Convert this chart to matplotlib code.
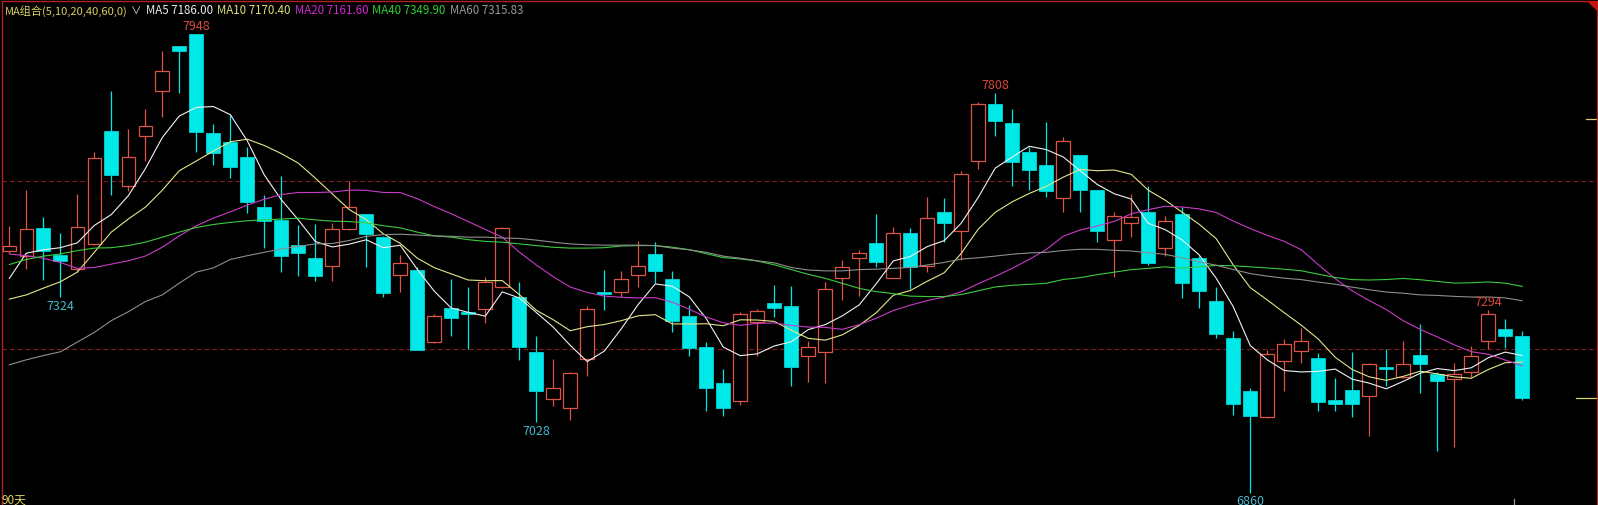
import numpy as np
import matplotlib
matplotlib.use('Agg')
import matplotlib.pyplot as plt
from matplotlib.patches import Polygon

plt.rcParams['font.family'] = ['Noto Sans CJK SC', 'DejaVu Sans']

# 90 根日K线 (开 高 低 收)
opens = [7432, 7422, 7487, 7424, 7390, 7450, 7717, 7587, 7705, 7812,
         7919, 7948, 7713, 7691, 7655, 7537, 7507, 7448, 7417, 7397,
         7485, 7521, 7466, 7377, 7388, 7218, 7297, 7289, 7295, 7347,
         7325, 7194, 7082, 7060, 7177, 7336, 7337, 7376, 7426, 7367,
         7280, 7205, 7120, 7078, 7264, 7310, 7302, 7183, 7193, 7370,
         7417, 7452, 7370, 7476, 7398, 7525, 7481, 7646, 7781, 7736,
         7667, 7638, 7560, 7661, 7578, 7459, 7499, 7525, 7440, 7521,
         7417, 7315, 7227, 7100, 7039, 7171, 7197, 7179, 7080, 7103,
         7090, 7159, 7134, 7186, 7142, 7129, 7147, 7219, 7248, 7231]
highs = [7492, 7578, 7513, 7475, 7568, 7667, 7813, 7723, 7770, 7907,
         7920, 7948, 7734, 7756, 7679, 7566, 7610, 7495, 7497, 7500,
         7600, 7522, 7468, 7424, 7395, 7284, 7367, 7348, 7371, 7489,
         7359, 7231, 7177, 7145, 7302, 7388, 7386, 7457, 7454, 7386,
         7306, 7218, 7153, 7288, 7296, 7353, 7350, 7220, 7359, 7412,
         7435, 7521, 7489, 7487, 7561, 7558, 7624, 7787, 7808, 7770,
         7679, 7739, 7704, 7662, 7579, 7525, 7568, 7588, 7516, 7537,
         7422, 7347, 7243, 7107, 7199, 7224, 7250, 7190, 7132, 7193,
         7167, 7201, 7220, 7260, 7147, 7167, 7208, 7294, 7272, 7243]
lows = [7428, 7390, 7365, 7324, 7383, 7448, 7567, 7576, 7647, 7752,
        7807, 7669, 7638, 7606, 7523, 7440, 7383, 7375, 7361, 7361,
        7483, 7395, 7323, 7335, 7198, 7215, 7231, 7201, 7262, 7345,
        7175, 7028, 7065, 7032, 7137, 7292, 7325, 7347, 7357, 7242,
        7183, 7054, 7042, 7068, 7183, 7277, 7112, 7122, 7120, 7318,
        7327, 7396, 7368, 7343, 7383, 7455, 7412, 7628, 7705, 7587,
        7579, 7562, 7526, 7525, 7455, 7371, 7467, 7400, 7422, 7322,
        7298, 7227, 7045, 6860, 7037, 7102, 7167, 7054, 7054, 7040,
        6995, 7112, 7132, 7096, 6959, 6967, 7135, 7201, 7202, 7080]
closes = [7446, 7485, 7432, 7410, 7489, 7653, 7614, 7655, 7730, 7860,
          7908, 7716, 7666, 7633, 7549, 7504, 7422, 7428, 7375, 7485,
          7537, 7474, 7334, 7404, 7199, 7278, 7274, 7283, 7359, 7487,
          7206, 7102, 7108, 7143, 7295, 7330, 7366, 7398, 7386, 7268,
          7204, 7107, 7061, 7284, 7290, 7297, 7157, 7205, 7343, 7394,
          7428, 7408, 7475, 7395, 7512, 7499, 7615, 7781, 7742, 7644,
          7626, 7576, 7693, 7579, 7481, 7516, 7513, 7405, 7504, 7358,
          7339, 7236, 7069, 7042, 7189, 7212, 7219, 7076, 7069, 7069,
          7165, 7152, 7164, 7165, 7125, 7141, 7185, 7283, 7232, 7085]

# 均线开头部分(窗口内数据不在图中, 从图上读取)
ma5_head = [7368, 7428, 7436, 7441]
ma10_head = [7319, 7329, 7345, 7360, 7383, 7430, 7478, 7509, 7537]
ma20_head = [7426, 7422, 7416, 7406, 7392, 7394, 7402, 7410, 7421, 7442,
             7469, 7493, 7511, 7526, 7542, 7556, 7567, 7572, 7572]
ma40_head = [7401, 7413, 7421, 7426, 7434, 7440, 7441, 7446, 7454, 7466,
             7478, 7489, 7496, 7501, 7505, 7507, 7509, 7511, 7507, 7504,
             7503, 7500, 7493, 7488, 7478, 7469, 7466, 7460, 7456, 7454,
             7450, 7446, 7442, 7440, 7440, 7441, 7445, 7446, 7446]
ma60_head = [7163, 7175, 7185, 7194, 7217, 7240, 7268, 7289, 7313, 7329,
             7357, 7383, 7393, 7413, 7422, 7430, 7438, 7444, 7450, 7451,
             7458, 7468, 7472, 7473, 7471, 7469, 7468, 7466, 7466, 7464,
             7463, 7459, 7454, 7450, 7448, 7447, 7447, 7447, 7446, 7440,
             7436, 7430, 7421, 7416, 7410, 7405, 7394, 7388, 7386, 7386,
             7389, 7390, 7392, 7394, 7400, 7406, 7414, 7417, 7421]

ma_periods = [5, 10, 20, 40, 60]
ma_last = [7186.00, 7170.40, 7161.60, 7349.90, 7315.83]
grid_prices = [7600, 7200]
top_marks = [11, 58, 87]
bottom_marks = [3, 31, 73]
side_mark = 7746

UP = '#dc5446'
DOWN = '#00e8e8'
MA_COLORS = ['#f2f2f2', '#e6e68a', '#c83cc8', '#3ccc3c', '#8e8e8e']
HEAD_COLORS = ['#ececec', '#dede78', '#d028d0', '#30d030', '#9a9a9a']
FRAME = '#b02222'


def moving_average(values, n, head):
    out = list(head)
    for i in range(len(head), len(values)):
        out.append(np.mean(values[i - n + 1:i + 1]))
    return out


W, H = 1598, 506
fig = plt.figure(figsize=(W / 100, H / 100), dpi=100, facecolor='black')
ax = fig.add_axes([2 / W, 0, 1595 / W, 504 / H])
ax.set_facecolor('black')

x = np.arange(len(closes))
o = np.array(opens)
c = np.array(closes)
hi = np.array(highs)
lo = np.array(lows)
up = c >= o
top = np.maximum(o, c)
bot = np.minimum(o, c)
cols = np.where(up, UP, DOWN)

# 影线
ax.vlines(x, top, hi, colors=cols, linewidth=0.9, zorder=2)
ax.vlines(x, lo, bot, colors=cols, linewidth=0.9, zorder=2)
# 实体
ax.bar(x[up], (top - bot)[up], bottom=bot[up], width=0.8,
       facecolor='black', edgecolor=UP, linewidth=0.9, zorder=3)
ax.bar(x[~up], np.maximum(top - bot, 1.5)[~up], bottom=bot[~up], width=0.82,
       facecolor=DOWN, edgecolor=DOWN, linewidth=0.5, zorder=3)

heads = [ma5_head, ma10_head, ma20_head, ma40_head, ma60_head]
for n, head, col in zip(ma_periods, heads, MA_COLORS):
    ax.plot(x, moving_average(closes, n, head), color=col, linewidth=0.8, zorder=4)

for p in grid_prices:
    ax.axhline(p, color='#8c1c1c', linewidth=0.8, linestyle=(0, (4, 3)), zorder=1)

# 高低点标注
for i in top_marks:
    ax.annotate(str(highs[i]), (i, highs[i]), xytext=(0, 6), textcoords='offset points',
                ha='center', va='center', fontsize=9, color='#d94a3c', zorder=5)
for i in bottom_marks:
    ax.annotate(str(lows[i]), (i, lows[i]), xytext=(0, -6), textcoords='offset points',
                ha='center', va='center', fontsize=9, color='#46b8cc', zorder=5)

ax.set_xlim(-0.43, 93.4)
ax.set_ylim(6830.5, 8026.3)
ax.set_xticks([])
ax.set_yticks([])
for side in ['left', 'top', 'right']:
    ax.spines[side].set_color(FRAME)
    ax.spines[side].set_linewidth(1.0)
ax.spines['bottom'].set_visible(False)

# 右侧价格标记
ax.axhline(side_mark, xmin=0.9931, xmax=1.0, color='#d8d070', linewidth=0.9)
ax.axhline(closes[-1], xmin=0.9868, xmax=1.0, color='#d8d070', linewidth=0.9)
ax.axvline(88.5, ymin=0, ymax=0.012, color='#9a9a9a', linewidth=0.9)


# 顶部均线说明
def fx(px):
    return px / W


def fy(py):
    return 1 - py / H


fig.text(fx(5), fy(11), 'MA组合(5,10,20,40,60,0)', color='#d8cf5c', fontsize=8.0,
         ha='left', va='center')
fig.text(fx(131), fy(12), '∨', color='#e0e0e0', fontsize=7.5, ha='left', va='center')
head_x = [146, 217, 295, 372, 450]
for px, n, v, col in zip(head_x, ma_periods, ma_last, HEAD_COLORS):
    fig.text(fx(px), fy(11), f'MA{n} {v:.2f}', color=col, fontsize=8.3,
             ha='left', va='center')

fig.text(fx(2), fy(500), '90天', color='#d8cf5c', fontsize=8.5, ha='left', va='center')

fig.patches.append(Polygon([[fx(1587), fy(2)], [fx(1597), fy(2)], [fx(1597), fy(12)]],
                           closed=True, transform=fig.transFigure, facecolor='#c81010',
                           edgecolor='none'))

fig.savefig('out.png', dpi=100, facecolor='black')
